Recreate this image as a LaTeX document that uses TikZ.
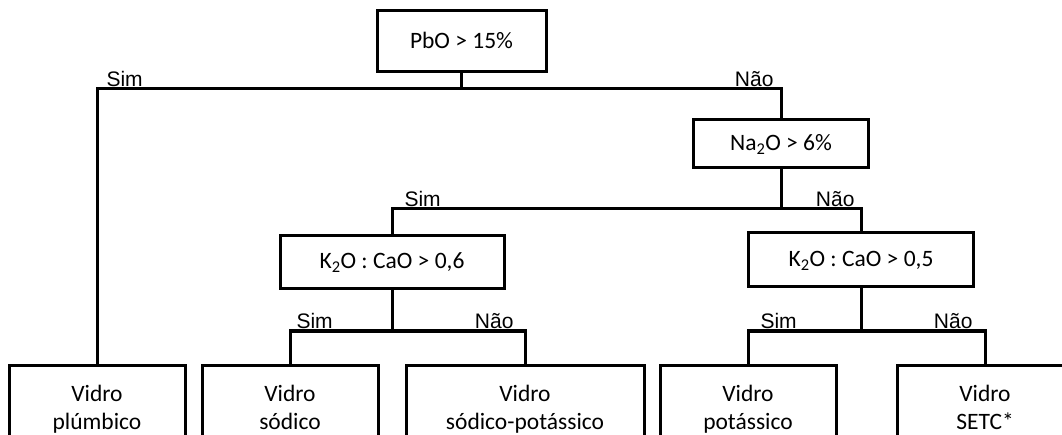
\documentclass[tikz,border=0pt]{standalone}
\usepackage{fontspec}
\setmainfont{Carlito}
\newfontfamily\labelfont{Liberation Sans}
\begin{document}
\begin{tikzpicture}[x=1pt,y=-1pt,
  line width=3pt, line join=miter,
  box/.style={draw, line width=3pt, rectangle, inner sep=0pt,
    font=\fontsize{23.5}{28.5}\selectfont, text height=17pt, text depth=3pt},
  leaf/.style={draw, line width=3pt, rectangle, anchor=north, inner xsep=0pt,
    inner ysep=16pt, minimum width=176pt, align=center,
    font=\fontsize{23.5}{28.5}\selectfont},
  lbl/.style={font=\labelfont\fontsize{21}{25}\selectfont, inner sep=0pt}]
\useasboundingbox (0,0) rectangle (1062,435);
\clip (0,0) rectangle (1062,435);
\fill[white] (0,0) rectangle (1062,435);

\coordinate (y1) at (0,89);
\coordinate (y2) at (0,209);
\coordinate (y3) at (0,331);

\node[box, minimum width=169pt, minimum height=61pt] (pbo) at (461.5,41.5) {PbO > 15\%};
\node[box, minimum width=175pt, minimum height=48pt] (na) at (781,144) {Na\textsubscript{2}O > 6\%};
\node[box, minimum width=224pt, minimum height=53pt] (k1) at (392,262) {K\textsubscript{2}O : CaO > 0,6};
\node[box, minimum width=225pt, minimum height=54pt] (k2) at (861,260) {K\textsubscript{2}O : CaO > 0,5};

\node[leaf] (l1) at (97,364) {\strut Vidro\\\strut plúmbico};
\node[leaf] (l2) at (290,364) {\strut Vidro\\\strut sódico};
\node[leaf, minimum width=238pt] (l3) at (525,364) {\strut Vidro\\\strut sódico-potássico};
\node[leaf] (l4) at (748,364) {\strut Vidro\\\strut potássico};
\node[leaf] (l5) at (985,364) {\strut Vidro\\\strut SETC*};

\coordinate (j1) at (pbo.south |- y1);
\coordinate (j2) at (na.south |- y2);
\coordinate (j3) at (k1.south |- y3);
\coordinate (j4) at (k2.south |- y3);

\draw (l1.north) |- (j1) -| (na.north);
\draw (pbo.south) -- (j1);
\draw (k1.north) |- (j2) -| (k2.north);
\draw (na.south) -- (j2);
\draw (l2.north) |- (j3) -| (l3.north);
\draw (k1.south) -- (j3);
\draw (l4.north) |- (j4) -| (l5.north);
\draw (k2.south) -- (j4);

\node[lbl, anchor=base west] (s1) at (105,86.5) {Sim};
\node[lbl, anchor=base east] (n1) at (775,86.5) {Não};
\node[lbl, anchor=base west] (s2) at (403,206.5) {Sim};
\node[lbl, anchor=base east] (n2) at (856,206.5) {Não};
\node[lbl, anchor=base west] (s3) at (295,328.5) {Sim};
\node[lbl, anchor=base east] (n3) at (515,328.5) {Não};
\node[lbl, anchor=base west] (s4) at (759,328.5) {Sim};
\node[lbl, anchor=base east] (n4) at (974,328.5) {Não};
\end{tikzpicture}
\end{document}
